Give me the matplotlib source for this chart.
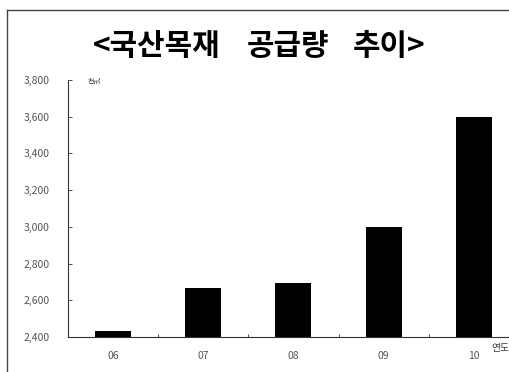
import matplotlib.pyplot as plt
from matplotlib.lines import Line2D
from matplotlib.ticker import FuncFormatter, MultipleLocator

plt.rcParams['font.family'] = ['Noto Sans CJK KR', 'DejaVu Sans']

# domestic timber supply (thousand m3)
years = ['06', '07', '08', '09', '10']
supply = [2435, 2668, 2695, 2997, 3598]
title_parts = ['<국산목재', '공급량', '추이>']

fig = plt.figure(figsize=(5.1, 3.72), dpi=100)
ax = fig.add_axes([0.133, 0.094, 0.867, 0.691])

x = range(len(years))
ax.bar(x, supply, width=0.4, color='black')
ax.set_ylim(2400, 3800)
ax.set_xlim(-0.5, 4.4)

ax.yaxis.set_major_locator(MultipleLocator(200))
ax.yaxis.set_major_formatter(FuncFormatter(lambda v, p: f'{int(v):,}'))
ax.set_xticks(list(x))
ax.set_xticklabels(years)
ax.set_xticks([0.5, 1.5, 2.5, 3.5], minor=True)

ax.tick_params(axis='y', direction='in', length=3, width=0.6, color='#333',
               labelsize=7.5, labelcolor='#555', pad=13)
ax.tick_params(axis='x', which='major', length=0, labelsize=7.5,
               labelcolor='#555', pad=10)
ax.tick_params(axis='x', which='minor', direction='in', length=2, width=0.6, color='#333')

for s in ['top', 'right']:
    ax.spines[s].set_visible(False)
ax.spines['left'].set_linestyle((0, (1, 1)))
ax.spines['left'].set_linewidth(0.8)
ax.spines['bottom'].set_linewidth(0.8)
ax.spines['left'].set_color('#333')
ax.spines['bottom'].set_color('#333')

# title in three pieces to match the spacing of the original
for xpos, part in zip([93 / 510, 247 / 510, 353 / 510], title_parts):
    fig.text(xpos, 0.877, part, ha='left', va='center', fontsize=21.5,
             fontweight='bold')
fig.text(0.172, 0.78, '천㎥', fontsize=5, color='#333', va='center')
fig.text(0.963, 0.064, '연도', fontsize=7, color='#333', va='center')

# outer frame (top and left)
fig.add_artist(Line2D([0.014, 1.0], [0.973, 0.973], color='#444', lw=1))
fig.add_artist(Line2D([0.014, 0.014], [0.0, 0.973], color='#444', lw=1))

fig.savefig('out.png', dpi=100)
